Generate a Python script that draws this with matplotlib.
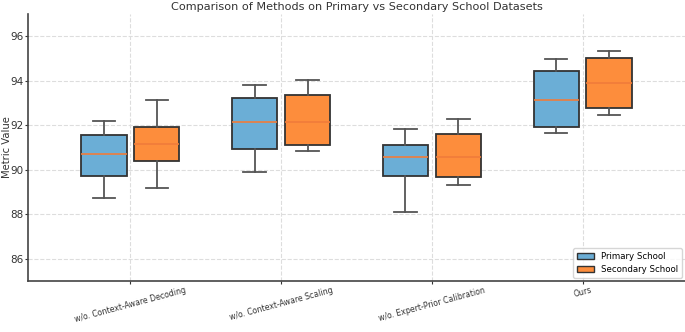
import matplotlib
matplotlib.use("Agg")
import matplotlib.pyplot as plt
from matplotlib.patches import Patch

# datos (bigote inf, q1, mediana, q3, bigote sup)
metodos = ["w/o. Context-Aware Decoding", "w/o. Context-Aware Scaling",
           "w/o. Expert-Prior Calibration", "Ours"]
primaria = [
    [88.74, 89.71, 90.70, 91.57, 92.17],
    [89.91, 90.93, 92.14, 93.23, 93.81],
    [88.12, 89.70, 90.57, 91.13, 91.82],
    [91.66, 91.94, 93.14, 94.43, 94.98],
]
secundaria = [
    [89.20, 90.40, 91.15, 91.91, 93.14],
    [90.86, 91.09, 92.14, 93.36, 94.04],
    [89.32, 89.67, 90.59, 91.61, 92.27],
    [92.45, 92.77, 93.89, 95.01, 95.34],
]
series = ["Primary School", "Secondary School"]
colores = ["#6baed6", "#fd8d3c"]


def stats(filas):
    out = []
    for lo, q1, med, q3, hi in filas:
        out.append({"whislo": lo, "q1": q1, "med": med, "q3": q3, "whishi": hi, "fliers": []})
    return out


fig = plt.figure(figsize=(6.85, 3.32), dpi=100)
ax = fig.add_axes([28 / 685, 1 - 281 / 332, 1 - 28 / 685, 267 / 332])

x = list(range(len(metodos)))
for k, (datos, col) in enumerate(zip([primaria, secundaria], colores)):
    off = -0.175 if k == 0 else 0.175
    ax.bxp(stats(datos), positions=[i + off for i in x], widths=0.3,
           patch_artist=True, showfliers=False,
           boxprops=dict(facecolor=col, edgecolor="#333333", linewidth=1.3),
           whiskerprops=dict(color="#555555", linewidth=1.3),
           capprops=dict(color="#555555", linewidth=1.3),
           medianprops=dict(color="#f07c3a", linewidth=1.2))

ax.set_xticks(x)
ax.set_xticklabels(metodos, rotation=15, ha="center", fontsize=5.6, color="#333333")
ax.set_xlim(-0.68, 3.68)
ax.set_ylim(85, 97)
ax.set_yticks([86, 88, 90, 92, 94, 96])
ax.tick_params(axis="y", labelsize=7.5, colors="#333333", length=2, pad=1)
ax.tick_params(axis="x", colors="#333333", length=2, pad=1.5)
ax.grid(True, linestyle="--", color="#dddddd", linewidth=0.8)
ax.set_axisbelow(True)
for s in ["top", "right"]:
    ax.spines[s].set_visible(False)
for s in ["left", "bottom"]:
    ax.spines[s].set_color("#444444")
    ax.spines[s].set_linewidth(1.2)

ax.set_ylabel("Metric Value", fontsize=7.2, color="#333333")
ax.yaxis.set_label_coords(-0.0245, 0.5)
ax.set_title("Comparison of Methods on Primary vs Secondary School Datasets",
             fontsize=8.1, color="#333333", pad=3)

handles = [Patch(facecolor=c, edgecolor="#333333", label=s) for s, c in zip(series, colores)]
ax.legend(handles=handles, loc="lower right", fontsize=6.2, borderaxespad=0.4)

fig.savefig("out.png", dpi=100)
